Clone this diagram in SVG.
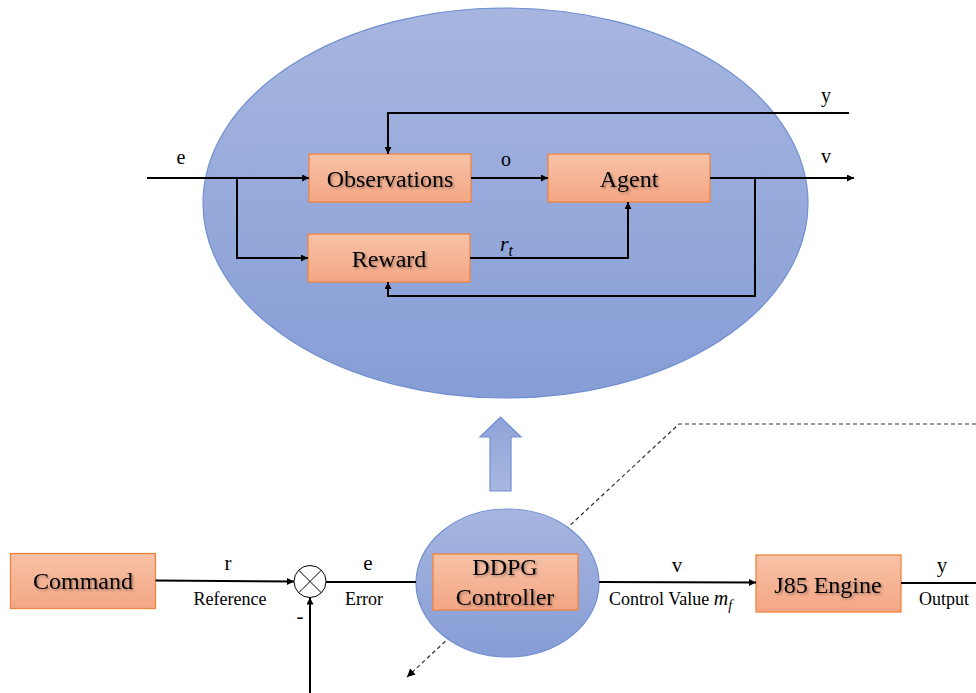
<svg xmlns="http://www.w3.org/2000/svg" width="976" height="693" viewBox="0 0 976 693">
  <defs>
    <linearGradient id="blueFill" x1="0" y1="0" x2="0" y2="1">
      <stop offset="0" stop-color="#a7b6e0"/>
      <stop offset="1" stop-color="#869dd5"/>
    </linearGradient>
    <linearGradient id="arrowFill" x1="0" y1="0" x2="0" y2="1">
      <stop offset="0" stop-color="#8ea3d8"/>
      <stop offset="1" stop-color="#a9b8e1"/>
    </linearGradient>
    <linearGradient id="boxFill" x1="0" y1="0" x2="0" y2="1">
      <stop offset="0" stop-color="#f7c2a7"/>
      <stop offset="1" stop-color="#f4a684"/>
    </linearGradient>
    <filter id="textShadow" x="-10%" y="-30%" width="120%" height="160%">
      <feDropShadow dx="1.5" dy="1.5" stdDeviation="0.8" flood-color="#000" flood-opacity="0.35"/>
    </filter>
    <marker id="arrow" viewBox="0 0 10 10" refX="10" refY="5" markerWidth="9" markerHeight="7" markerUnits="userSpaceOnUse" orient="auto">
      <path d="M0,0 L10,5 L0,10 z" fill="#000"/>
    </marker>
    <marker id="arrowDash" viewBox="0 0 10 10" refX="10" refY="5" markerWidth="10" markerHeight="8" markerUnits="userSpaceOnUse" orient="auto">
      <path d="M0,0 L10,5 L0,10 z" fill="#000"/>
    </marker>
  </defs>
  <style>
    text { font-family: "Liberation Serif", "Times New Roman", serif; fill: #000; }
    .box { fill: url(#boxFill); stroke: #f0843f; stroke-width: 1.3; }
    .bubble { fill: url(#blueFill); stroke: #6f8fd1; stroke-width: 1.2; }
    .boxText { text-anchor: middle; font-size: 24px; filter: url(#textShadow); }
    .wire { fill: none; stroke: #000; stroke-width: 2; }
    .dash { fill: none; stroke: #333; stroke-width: 1.2; stroke-dasharray: 4 3; }
  </style>

  <!-- expanded view of the controller internals -->
  <g id="controller-detail">
    <ellipse class="bubble" cx="505.5" cy="203" rx="302.5" ry="195"/>
  </g>

  <!-- dashed guide through the controller bubble -->
  <g id="callout">
    <path class="dash" d="M976,424 L679,424 L407,677" marker-end="url(#arrowDash)"/>
  </g>

  <!-- wide block arrow pointing up to the detail view -->
  <g id="zoom-arrow">
    <path d="M490,491 L490,437 L480,437 L500.5,417 L521,437 L511,437 L511,491 Z" fill="url(#arrowFill)" stroke="#6f8fd1" stroke-width="1.2"/>
  </g>

  <g id="observations">
    <rect class="box" x="309" y="154" width="162" height="48"/>
    <text class="boxText" x="390" y="187">Observations</text>
  </g>
  <g id="agent">
    <rect class="box" x="548" y="154" width="162" height="48"/>
    <text class="boxText" x="629" y="187">Agent</text>
  </g>
  <g id="reward">
    <rect class="box" x="308" y="234" width="162" height="48"/>
    <text class="boxText" x="389" y="267">Reward</text>
  </g>

  <g id="command">
    <rect class="box" x="10.5" y="553.5" width="145" height="55"/>
    <text class="boxText" x="83" y="589">Command</text>
  </g>

  <g id="sum">
    <circle cx="310" cy="581.5" r="16" fill="#fff" stroke="#000" stroke-width="1"/>
    <path d="M298.7,570.2 L321.3,592.8 M321.3,570.2 L298.7,592.8" stroke="#000" stroke-width="1"/>
  </g>

  <g id="ddpg">
    <ellipse class="bubble" cx="507.5" cy="583" rx="91.5" ry="74"/>
    <rect class="box" x="433" y="554" width="145" height="56"/>
    <text class="boxText" x="505" y="575">DDPG</text>
    <text class="boxText" x="505" y="605">Controller</text>
  </g>

  <g id="engine">
    <rect class="box" x="756" y="555" width="145" height="57"/>
    <text class="boxText" x="828" y="593">J85 Engine</text>
  </g>

  <!-- signal wires -->
  <g id="connectors">
    <!-- inner loop -->
    <path class="wire" d="M147,178 L309,178" marker-end="url(#arrow)"/>
    <path class="wire" d="M237,178 L237,258 L308,258" marker-end="url(#arrow)"/>
    <path class="wire" d="M849,113 L388,113 L388,154" marker-end="url(#arrow)"/>
    <path class="wire" d="M471,178 L548,178" marker-end="url(#arrow)"/>
    <path class="wire" d="M710,178 L854,178" marker-end="url(#arrow)"/>
    <path class="wire" d="M755,178 L755,296 L388,296 L388,282" marker-end="url(#arrow)"/>
    <path class="wire" d="M470,258 L628,258 L628,202" marker-end="url(#arrow)"/>
    <!-- outer loop -->
    <path class="wire" d="M155.5,580.5 L294,581.5" marker-end="url(#arrow)"/>
    <path class="wire" d="M310,693 L310,597.5" marker-end="url(#arrow)"/>
    <path class="wire" d="M326,582 L416,582"/>
    <path class="wire" d="M599,582 L756,582.5" marker-end="url(#arrow)"/>
    <path class="wire" d="M901,583 L976,583"/>
  </g>

  <!-- signal labels -->
  <g id="labels" text-anchor="middle">
    <text x="181" y="164" font-size="20">e</text>
    <text x="506" y="166" font-size="20">o</text>
    <text x="826" y="102" font-size="20">y</text>
    <text x="826" y="163" font-size="20">v</text>
    <text x="500" y="251" font-size="22" font-style="italic" text-anchor="start">r<tspan font-size="16" dy="5">t</tspan></text>

    <text x="228" y="570" font-size="21">r</text>
    <text x="230" y="605" font-size="18">Reference</text>
    <text x="300" y="623" font-size="21">-</text>
    <text x="368" y="570" font-size="21">e</text>
    <text x="364" y="605" font-size="18">Error</text>
    <text x="677" y="572" font-size="21">v</text>
    <text x="609" y="605" font-size="18" text-anchor="start">Control Value <tspan font-style="italic" font-size="20">m</tspan><tspan font-style="italic" font-size="14" dy="5">f</tspan></text>
    <text x="942" y="572" font-size="21">y</text>
    <text x="944" y="605" font-size="18">Output</text>
  </g>
</svg>
